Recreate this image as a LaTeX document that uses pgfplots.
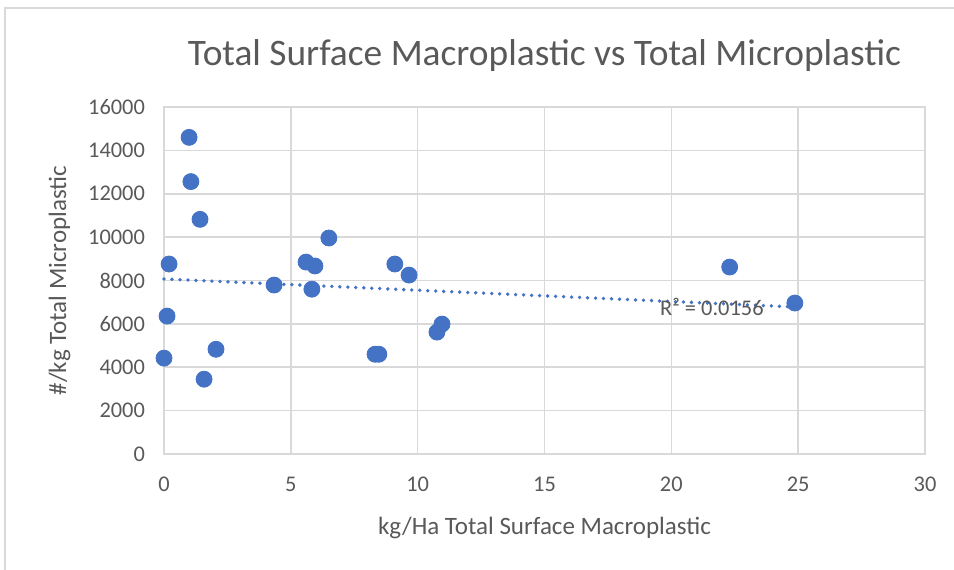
\documentclass[border=0pt]{standalone}
\usepackage{pgfplots}
\pgfplotsset{compat=1.18}
\usepackage{fontspec}
\setmainfont{Carlito}
\definecolor{excelblue}{HTML}{4472C4}
\definecolor{gridgray}{HTML}{D9D9D9}
\definecolor{textgray}{HTML}{595959}
\begin{document}
\begin{tikzpicture}
\path[use as bounding box] (-82pt,-57.5pt) rectangle (395pt,227pt);
\draw[gridgray, line width=0.6pt] (-79.5pt,-60pt) -- (-79.5pt,223pt) -- (400pt,223pt);
\begin{axis}[
  at={(0,0)}, anchor=south west,
  scale only axis, width=380.5pt, height=173.5pt,
  xmin=0, xmax=30, ymin=0, ymax=16000,
  xtick={0,5,...,30}, ytick={0,2000,...,16000},
  grid=major, major grid style={gridgray, line width=0.8pt},
  axis line style={gridgray, line width=0.8pt},
  major tick length=0pt,
  tick label style={font=\fontsize{11.2pt}{13pt}\selectfont, text=textgray},
  /pgf/number format/assume math mode=true,
  scaled y ticks=false,
  yticklabel style={/pgf/number format/1000 sep={}, xshift=-6pt},
  xticklabel style={yshift=-8pt},
  xlabel={kg/Ha Total Surface Macroplastic},
  ylabel={\#/kg Total Microplastic},
  label style={font=\fontsize{12.5pt}{15pt}\selectfont, text=textgray},
  xlabel style={yshift=-6pt},
  ylabel style={yshift=2pt},
  title={Total Surface Macroplastic vs Total Microplastic},
  title style={font=\fontsize{18.7pt}{22pt}\selectfont, text=textgray, yshift=8pt},
  clip=false,
]
\addplot[only marks, mark=*, mark size=4pt, mark options={fill=excelblue, draw=excelblue}] coordinates {
(0.99,14600) (1.06,12560) (1.42,10820) (0.2,8760) (0.12,6360) (0.0,4420)
(2.05,4830) (1.58,3450) (4.34,7790) (5.6,8850) (5.95,8670) (5.83,7600)
(6.5,9960) (8.32,4600) (8.47,4600) (9.1,8760) (9.66,8250) (10.76,5620)
(10.96,5990) (22.3,8620) (24.87,6960)
};
\addplot[excelblue, line width=1.9pt, dash pattern=on 0pt off 4pt, line cap=round] coordinates {(0,8070) (24.87,6780)};
\node[text=textgray, font=\fontsize{11.2pt}{13pt}\selectfont] at (axis cs:21.6,6800) {R² = 0.0156};
\end{axis}
\end{tikzpicture}
\end{document}
